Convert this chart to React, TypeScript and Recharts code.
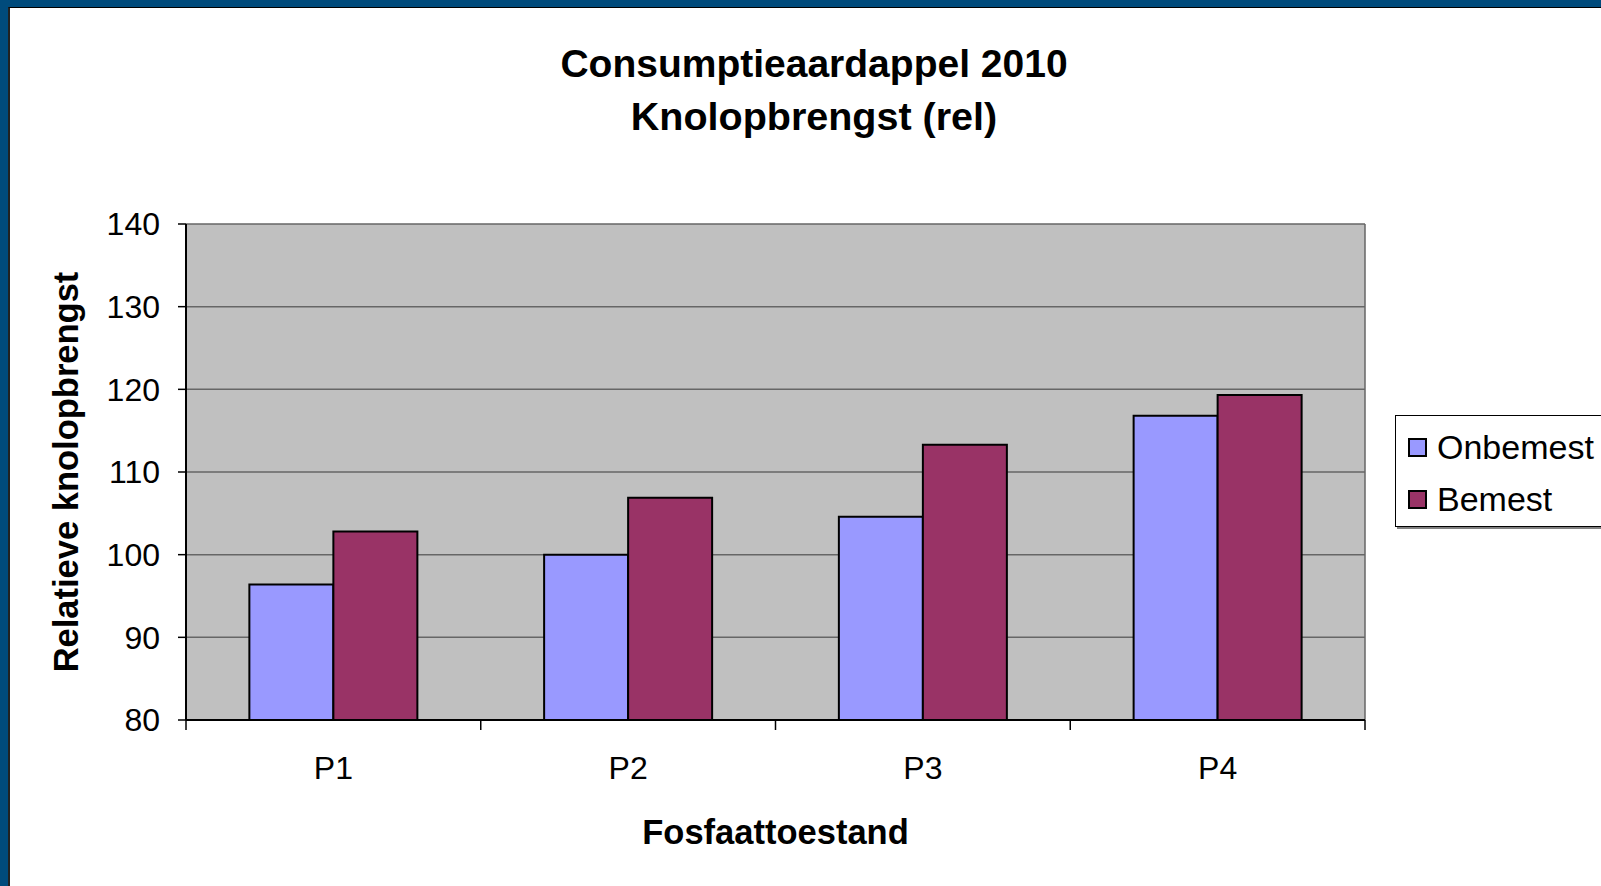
import React from "react";
import {
  BarChart,
  Bar,
  XAxis,
  YAxis,
  CartesianGrid,
  Legend,
  Label,
} from "recharts";

const categories = ["P1", "P2", "P3", "P4"];
const seriesNames = ["Onbemest", "Bemest"];
const onbemest = [96.4, 100, 104.6, 116.8];
const bemest = [102.8, 106.9, 113.3, 119.3];
const yTicks = [80, 90, 100, 110, 120, 130, 140];

const data = categories.map((name, i) => ({
  name,
  Onbemest: onbemest[i],
  Bemest: bemest[i],
}));

const FONT = "'Liberation Sans', Arial, sans-serif";

// category label plus the Excel-style tick marks between the categories
const CategoryTick = (props: any) => {
  const { x, y, payload, index, visibleTicksCount, width } = props;
  const half =
    typeof payload?.offset === "number" && payload.offset > 0
      ? payload.offset
      : width / visibleTicksCount / 2;
  const isLast = index === visibleTicksCount - 1;
  return (
    <g>
      <line x1={x - half} x2={x - half} y1={y} y2={y + 10} stroke="#000" strokeWidth={1.5} />
      {isLast && (
        <line x1={x + half} x2={x + half} y1={y} y2={y + 10} stroke="#000" strokeWidth={1.5} />
      )}
      <text x={x} y={y + 36} dy="0.71em" textAnchor="middle" fontSize={32} fill="#000">
        {payload.value}
      </text>
    </g>
  );
};

const renderLegend = (props: any) => {
  const items = [...(props.payload ?? [])].sort(
    (a: any, b: any) => seriesNames.indexOf(a.value) - seriesNames.indexOf(b.value)
  );
  return (
    <div
      style={{
        width: 240,
        height: 112,
        boxSizing: "border-box",
        border: "1px solid #000",
        background: "#fff",
        boxShadow: "2px 2px 0 #808080",
        paddingTop: 5,
        fontFamily: FONT,
      }}
    >
      {items.map((entry: any) => (
        <div
          key={entry.value}
          style={{ display: "flex", alignItems: "center", height: 52 }}
        >
          <span
            style={{
              display: "inline-block",
              boxSizing: "border-box",
              width: 19,
              height: 19,
              marginLeft: 12,
              marginRight: 10,
              border: "2px solid #000",
              background: entry.color,
            }}
          />
          <span style={{ fontSize: 34, lineHeight: 1, color: "#000" }}>
            {entry.value}
          </span>
        </div>
      ))}
    </div>
  );
};

export default function App() {
  return (
    <div
      style={{
        position: "absolute",
        left: 0,
        top: 0,
        width: 1601,
        height: 886,
        background: "#004B7C",
        overflow: "hidden",
      }}
    >
      <div
        style={{
          position: "absolute",
          left: 8,
          top: 7,
          right: 0,
          bottom: 0,
          background: "#fff",
          borderTop: "1px solid #000",
          borderLeft: "2px solid #222",
        }}
      />
      <div
        style={{
          position: "absolute",
          left: 514,
          top: 37,
          width: 600,
          textAlign: "center",
          fontFamily: FONT,
          fontWeight: "bold",
          fontSize: 39,
          lineHeight: "53px",
          color: "#000",
        }}
      >
        <div>Consumptieaardappel 2010</div>
        <div style={{ fontSize: 39.5 }}>Knolopbrengst (rel)</div>
      </div>
      <div style={{ position: "absolute", left: 0, top: 0 }}>
        <BarChart
          width={1601}
          height={886}
          data={data}
          margin={{ top: 224, right: 236, left: 30, bottom: 20 }}
          barCategoryGap="21.5%"
          barGap={0}
          style={{ fontFamily: FONT }}
        >
          <CartesianGrid
            fill="#C0C0C0"
            stroke="#666666"
            strokeWidth={1.5}
            fillOpacity={1}
            verticalCoordinatesGenerator={({ offset }: any) => [
              offset.left + offset.width,
            ]}
          />
          <XAxis
            dataKey="name"
            height={146}
            axisLine={{ stroke: "#000", strokeWidth: 2 }}
            tickLine={false}
            tickSize={0}
            tickMargin={0}
            interval={0}
            tick={<CategoryTick />}
          >
            <Label
              value="Fosfaattoestand"
              position="insideBottom"
              offset={22}
              style={{ fontSize: 34.5, fontWeight: "bold", fill: "#000" }}
            />
          </XAxis>
          <YAxis
            width={156}
            domain={[80, 140]}
            ticks={yTicks}
            interval={0}
            axisLine={{ stroke: "#000", strokeWidth: 2 }}
            tickLine={{ stroke: "#000", strokeWidth: 1.5 }}
            tickSize={8}
            tickMargin={18}
            tick={{ fontSize: 32, fill: "#000" }}
          >
            <Label
              value="Relatieve knolopbrengst"
              angle={-90}
              position="insideLeft"
              offset={36}
              style={{
                fontSize: 34.5,
                fontWeight: "bold",
                fill: "#000",
                textAnchor: "middle",
              }}
            />
          </YAxis>
          <Legend
            layout="vertical"
            align="center"
            verticalAlign="middle"
            wrapperStyle={{ left: 1395, top: 415, width: 240 }}
            content={renderLegend}
          />
          <Bar
            dataKey="Onbemest"
            fill="#9999FF"
            stroke="#000"
            strokeWidth={2}
            isAnimationActive={false}
          />
          <Bar
            dataKey="Bemest"
            fill="#993366"
            stroke="#000"
            strokeWidth={2}
            isAnimationActive={false}
          />
        </BarChart>
      </div>
    </div>
  );
}
